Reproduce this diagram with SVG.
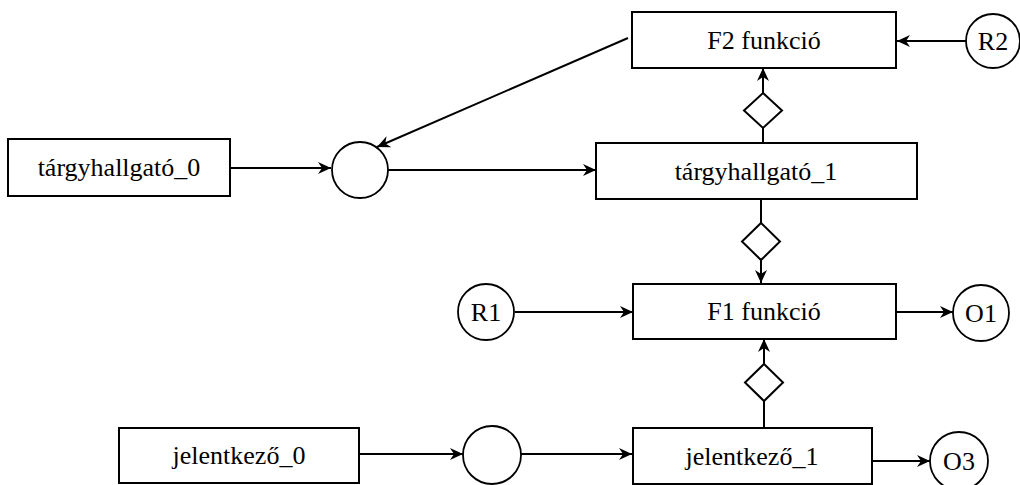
<svg xmlns="http://www.w3.org/2000/svg" width="1020" height="485" viewBox="0 0 1020 485">
<style>
.box{fill:#fff;stroke:#000;stroke-width:2}
.c{fill:#fff;stroke:#000;stroke-width:1.8}
.t{font-family:"Liberation Serif","Times New Roman",serif;font-size:26px;fill:#000;text-anchor:middle}
.e{fill:none;stroke:#000;stroke-width:2}
.a{marker-end:url(#ah)}
.d{fill:#fff;stroke:#000;stroke-width:2}
</style>
<defs>
<marker id="ah" markerUnits="userSpaceOnUse" markerWidth="14" markerHeight="12" refX="13" refY="6" orient="auto">
<path d="M0,0 L13,6 L0,12 L4,6 z" fill="#000"/>
</marker>
</defs>
<g id="connectors">
<line class="e a" x1="966" y1="41" x2="897" y2="41"/>
<line class="e a" x1="628" y1="38" x2="377" y2="147"/>
<line class="e a" x1="230" y1="168" x2="331" y2="168"/>
<line class="e a" x1="388" y1="170" x2="596" y2="170"/>
<line class="e" x1="763" y1="143" x2="763" y2="128"/>
<polygon class="d" points="763,93 782,110.5 763,128 744,110.5"/>
<line class="e a" x1="763" y1="93" x2="763" y2="68"/>
<line class="e" x1="761" y1="199" x2="761" y2="223"/>
<polygon class="d" points="761,223 780,241.5 761,260 742,241.5"/>
<line class="e a" x1="761" y1="260" x2="761" y2="283"/>
<line class="e a" x1="515" y1="312" x2="633" y2="312"/>
<line class="e a" x1="896" y1="312" x2="953" y2="312"/>
<line class="e" x1="764" y1="428" x2="764" y2="401"/>
<polygon class="d" points="764,364 783,382.5 764,401 745,382.5"/>
<line class="e a" x1="764" y1="364" x2="764" y2="339"/>
<line class="e a" x1="359" y1="454" x2="463" y2="454"/>
<line class="e a" x1="521" y1="454" x2="632" y2="454"/>
<line class="e a" x1="872" y1="461" x2="930" y2="461"/>
</g>
<g id="f2"><rect class="box" x="632" y="12" width="264" height="56"/><text class="t" x="764" y="49">F2 funkció</text></g>
<g id="r2"><circle class="c" cx="993" cy="41" r="27"/><text class="t" x="993" y="50">R2</text></g>
<g id="targy0"><rect class="box" x="8" y="139" width="222" height="57"/><text class="t" x="119" y="176">tárgyhallgató_0</text></g>
<g id="merge1"><circle class="c" cx="360" cy="170" r="28"/></g>
<g id="targy1"><rect class="box" x="596" y="143" width="321" height="56"/><text class="t" x="756" y="180">tárgyhallgató_1</text></g>
<g id="r1"><circle class="c" cx="486" cy="312" r="28"/><text class="t" x="486" y="321">R1</text></g>
<g id="f1"><rect class="box" x="633" y="284" width="263" height="55"/><text class="t" x="764" y="320">F1 funkció</text></g>
<g id="o1"><circle class="c" cx="981" cy="313" r="28"/><text class="t" x="981" y="322">O1</text></g>
<g id="jel0"><rect class="box" x="119" y="428" width="240" height="55"/><text class="t" x="239" y="464">jelentkező_0</text></g>
<g id="merge2"><circle class="c" cx="492" cy="455" r="29"/></g>
<g id="jel1"><rect class="box" x="633" y="428" width="239" height="56"/><text class="t" x="752" y="465">jelentkező_1</text></g>
<g id="o3"><circle class="c" cx="959" cy="461" r="29"/><text class="t" x="959" y="470">O3</text></g>
</svg>
